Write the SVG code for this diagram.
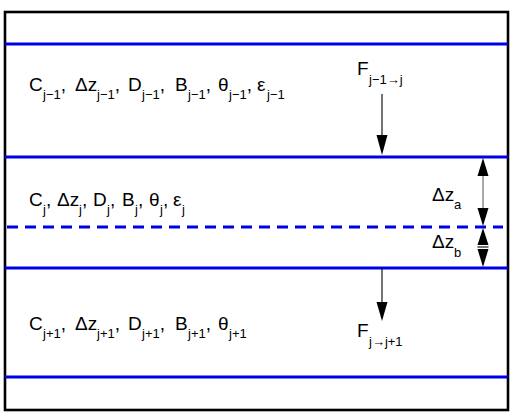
<svg xmlns="http://www.w3.org/2000/svg" width="518" height="414" viewBox="0 0 518 414">
<defs>
<style>
.frame{fill:#fff;stroke:#000;stroke-width:2.6}
.bl{stroke:#0000e8;stroke-width:3;fill:none}
.dash{stroke:#0000e8;stroke-width:3;stroke-dasharray:11 7;fill:none}
.ln{stroke:#000;stroke-width:1.1;fill:none}
.dl{stroke:#555;stroke-width:1;fill:none}
.hd{fill:#000}
text{font-family:"Liberation Sans",Arial,sans-serif;font-size:19px;fill:#000}
.s{font-size:13px}
</style>
</defs>
<rect class="frame" x="5" y="12" width="503" height="398"/>
<g id="boundaries">
<line class="bl" x1="5" y1="44" x2="508" y2="44"/>
<line class="bl" x1="5" y1="157" x2="508" y2="157"/>
<line class="bl" x1="5" y1="268" x2="508" y2="268"/>
<line class="bl" x1="5" y1="377" x2="508" y2="377"/>
<line class="dash" x1="7" y1="227" x2="503" y2="227"/>
</g>
<g id="layer-jm1">
<text y="91"><tspan x="29">C</tspan><tspan class="s" x="43" y="99">j−1</tspan><tspan y="91">,</tspan><tspan x="75" y="91">Δz</tspan><tspan class="s" x="97" y="99">j−1</tspan><tspan y="91">,</tspan><tspan x="128" y="91">D</tspan><tspan class="s" x="142" y="99">j−1</tspan><tspan y="91">,</tspan><tspan x="175" y="91">B</tspan><tspan class="s" x="188" y="99">j−1</tspan><tspan y="91">,</tspan><tspan x="218" y="91">θ</tspan><tspan class="s" x="229" y="99">j−1</tspan><tspan y="91">,</tspan><tspan x="257" y="91">ε</tspan><tspan class="s" x="267" y="99">j−1</tspan></text>
</g>
<g id="layer-j">
<text y="206"><tspan x="29">C</tspan><tspan class="s" x="43" y="214">j</tspan><tspan y="206">,</tspan><tspan x="57" y="206">Δz</tspan><tspan class="s" x="79" y="214">j</tspan><tspan y="206">,</tspan><tspan x="93" y="206">D</tspan><tspan class="s" x="107" y="214">j</tspan><tspan y="206">,</tspan><tspan x="122" y="206">B</tspan><tspan class="s" x="135" y="214">j</tspan><tspan y="206">,</tspan><tspan x="149" y="206">θ</tspan><tspan class="s" x="160" y="214">j</tspan><tspan y="206">,</tspan><tspan x="173" y="206">ε</tspan><tspan class="s" x="182" y="214">j</tspan></text>
</g>
<g id="layer-jp1">
<text y="330"><tspan x="29">C</tspan><tspan class="s" x="43" y="338">j+1</tspan><tspan y="330">,</tspan><tspan x="75" y="330">Δz</tspan><tspan class="s" x="97" y="338">j+1</tspan><tspan y="330">,</tspan><tspan x="128" y="330">D</tspan><tspan class="s" x="142" y="338">j+1</tspan><tspan y="330">,</tspan><tspan x="175" y="330">B</tspan><tspan class="s" x="188" y="338">j+1</tspan><tspan y="330">,</tspan><tspan x="218" y="330">θ</tspan><tspan class="s" x="229" y="338">j+1</tspan></text>
</g>
<g id="flux-in-label">
<text y="75"><tspan x="357">F</tspan><tspan class="s" x="369" y="84">j−1→j</tspan></text>
</g>
<g id="flux-out-label">
<text y="337"><tspan x="357">F</tspan><tspan class="s" x="369" y="346">j→j+1</tspan></text>
</g>
<g id="dz-labels">
<text y="201"><tspan x="432">Δz</tspan><tspan class="s" x="454" y="209">a</tspan></text>
<text y="248"><tspan x="432">Δz</tspan><tspan class="s" x="454" y="257">b</tspan></text>
</g>
<g id="connectors">
<line class="ln" x1="382" y1="94" x2="382" y2="136"/>
<polygon class="hd" points="376.5,135 387.5,135 382,155"/>
<line class="ln" x1="382" y1="268" x2="382" y2="303"/>
<polygon class="hd" points="376.5,302 387.5,302 382,321"/>
<line class="dl" x1="483" y1="170" x2="483" y2="214"/>
<polygon class="hd" points="483,158 477.5,176 488.5,176"/>
<polygon class="hd" points="483,226 477.5,208 488.5,208"/>
<polygon class="hd" points="483,228 477.5,245 488.5,245"/>
<polygon class="hd" points="483,267 477.5,249 488.5,249"/>
<line class="ln" x1="477.5" y1="247" x2="488.5" y2="247"/>
</g>
</svg>
